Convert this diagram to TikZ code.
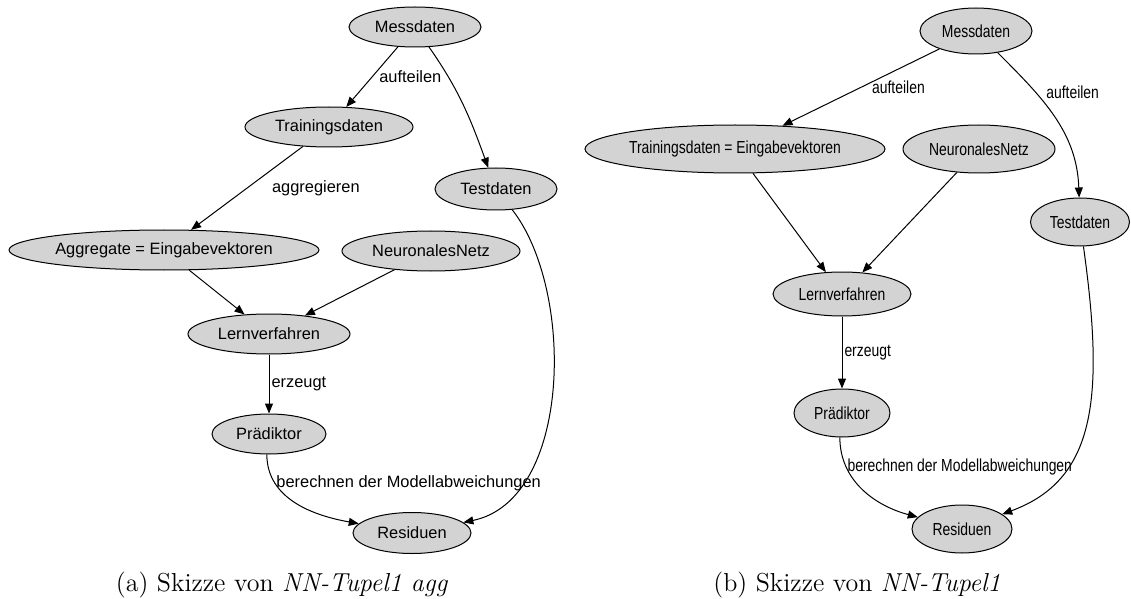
\documentclass[tikz,border=0pt]{standalone}
\usepackage{fontspec}
\usepackage{tikz}
\usetikzlibrary{positioning, arrows.meta, shapes.geometric}
\newfontfamily\grafschrift{Liberation Sans}
\newfontfamily\grafschmal[FakeStretch=0.8]{Liberation Sans}
\definecolor{hellgrau}{HTML}{D3D3D3}
\tikzset{
  knoten/.style={ellipse, draw, fill=hellgrau, line width=0.5pt, inner sep=0pt, minimum height=20pt},
  pfeil/.style={-{Triangle[length=5pt,width=4pt]}, line width=0.5pt},
  unterschrift/.style={font=\fontsize{13}{15}\selectfont, anchor=base}
}
\begin{document}
\begin{tikzpicture}[x=0.5pt, y=0.5pt]
\useasboundingbox (0,0) rectangle (1131,-599);

% (a) mit Aggregation
\begin{scope}[every node/.append style={font=\grafschrift\fontsize{8.2}{10}\selectfont}]
\node[knoten, minimum width=66pt] (messA) at (415,-27) {Messdaten};
\node[knoten, minimum width=84pt] (trainA) at (329,-127) {Trainingsdaten};
\node[knoten, minimum width=61pt, minimum height=21pt] (testA) at (496,-189) {Testdaten};
\node[knoten, minimum width=155pt] (aggA) at (164,-250) {Aggregate = Eingabevektoren};
\node[knoten, minimum width=89pt] (netzA) at (431,-251) {NeuronalesNetz};
\node[knoten, minimum width=81pt] (lernA) at (269,-334) {Lernverfahren};
\node[knoten, minimum width=57pt, below=29.5pt of lernA] (praedA) {Prädiktor};
\node[knoten, minimum width=59pt, minimum height=20.5pt] (residA) at (412,-533) {Residuen};
\draw[pfeil] (messA) -- (trainA) node[midway,right]{aufteilen};
\draw[pfeil] (messA) to[out=-55,in=110] (testA);
\draw[pfeil] (trainA) -- (aggA) node[midway,right=9pt]{aggregieren};
\draw[pfeil] (aggA) -- (lernA);
\draw[pfeil] (netzA) -- (lernA);
\draw[pfeil] (lernA) -- (praedA) node[midway,right,inner sep=1pt]{erzeugt};
\draw[pfeil] (praedA.264) to[out=-90,in=170] node[pos=0.25,right,inner sep=0.5pt]{berechnen der Modellabweichungen} (residA);
\draw[pfeil] (testA) .. controls (575,-290) and (572,-500) .. (residA);
\end{scope}

% (b) ohne Aggregation
\begin{scope}[every node/.append style={font=\grafschmal\fontsize{8.7}{10}\selectfont}]
\node[knoten, minimum width=56pt, minimum height=23pt] (messB) at (976,-31) {Messdaten};
\node[knoten, minimum width=150pt, minimum height=24pt] (trainB) at (735,-149) {Trainingsdaten = Eingabevektoren};
\node[knoten, minimum width=76pt, minimum height=24pt] (netzB) at (979,-149) {NeuronalesNetz};
\node[knoten, minimum width=49.5pt, minimum height=24pt] (testB) at (1080,-222) {Testdaten};
\node[knoten, minimum width=69pt, minimum height=22pt] (lernB) at (842,-294) {Lernverfahren};
\node[knoten, minimum width=48pt, minimum height=24pt, below=36pt of lernB] (praedB) {Prädiktor};
\node[knoten, minimum width=50pt, minimum height=24pt] (residB) at (962,-529) {Residuen};
\draw[pfeil] (messB) -- (trainB) node[midway,right=2pt]{aufteilen};
\draw[pfeil] (messB) to[out=-45,in=92] node[pos=0.3,right=2pt]{aufteilen} (testB);
\draw[pfeil] (trainB) -- (lernB);
\draw[pfeil] (netzB) -- (lernB);
\draw[pfeil] (lernB) -- (praedB) node[midway,right,inner sep=1pt]{erzeugt};
\draw[pfeil] (praedB.265) to[out=-90,in=165] node[pos=0.25,right,inner sep=0.5pt]{berechnen der Modellabweichungen} (residB);
\draw[pfeil] (testB) .. controls (1105,-400) and (1095,-480) .. (residB);
\end{scope}

\node[unterschrift] (capA) at (282,-591) {(a) Skizze von \textit{NN-Tupel1 agg}};
\node[unterschrift] (capB) at (857,-591) {(b) Skizze von \textit{NN-Tupel1}};
\end{tikzpicture}
\end{document}
